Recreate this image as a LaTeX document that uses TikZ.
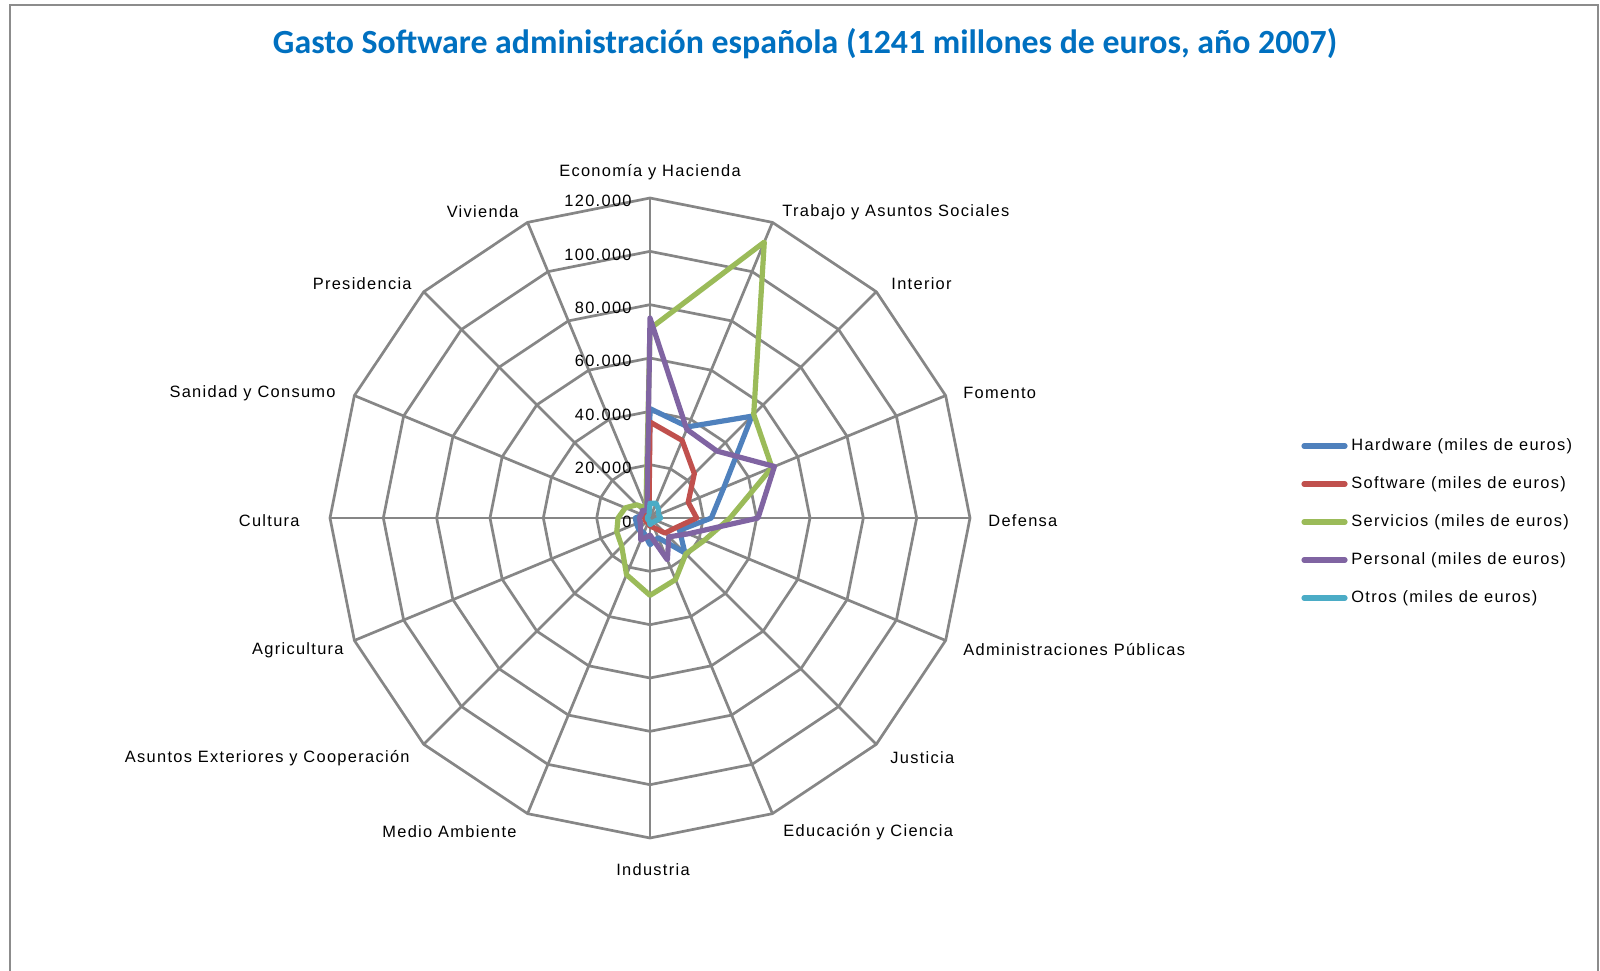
\documentclass[tikz,border=0pt]{standalone}
\usepackage{fontspec}
\usepackage{graphicx}
\setmainfont{Liberation Sans}
\newfontfamily\labfont[LetterSpace=8]{Liberation Sans}
\newfontfamily\ttlfont{Carlito}
\definecolor{gridgray}{RGB}{134,134,134}
\definecolor{framegray}{RGB}{140,140,140}
\definecolor{ttlblue}{RGB}{0,112,192}
\definecolor{hwc}{RGB}{79,129,189}
\definecolor{swc}{RGB}{192,80,77}
\definecolor{svc}{RGB}{155,187,89}
\definecolor{pec}{RGB}{128,100,162}
\definecolor{otc}{RGB}{75,172,198}
\tikzset{
  gridline/.style={draw=gridgray,line width=1.35pt},
  serie/.style={line width=2.6pt,line join=round,line cap=round},
  lab/.style={font=\labfont\fontsize{8.2}{10}\selectfont,inner sep=0pt},
  tick/.style={font=\labfont\fontsize{8.2}{10}\selectfont,inner sep=0pt,anchor=east},
}
\newcommand\drawseries[3]{%
  \foreach \v [count=\i from 0] in {#3} {\coordinate (#1\i) at ({650+2.66667*\v*sin(22.5*\i)},{518-2.66667*\v*cos(22.5*\i)});}
  \draw[serie,#2] (#10) \foreach \i in {1,...,15} { -- (#1\i) } -- cycle;
}
\begin{document}
\begin{tikzpicture}[x=0.5pt,y=-0.5pt]
\useasboundingbox (0,0) rectangle (1600,970);
\fill[white] (0,0) rectangle (1600,970);
\draw[framegray,line width=1.4pt] (10,980) -- (10,5) -- (1598,5) -- (1598,980);
% title
\node[inner sep=0pt,text=ttlblue] (title) at (805,44) {\resizebox{532pt}{!}{\ttlfont\bfseries Gasto Software administración española (1241 millones de euros, año 2007)}};
% grid
\coordinate (c) at (650,518);
\foreach \k in {0,...,15} {\coordinate (s\k) at ({650+320*sin(22.5*\k)},{518-320*cos(22.5*\k)});}
\foreach \k in {0,...,15} {\draw[gridline] (c) -- (s\k);}
\foreach \r in {1,...,6} {
  \draw[gridline,line join=miter] ({650},{518-53.3333*\r}) \foreach \k in {1,...,15} { -- ({650+53.3333*\r*sin(22.5*\k)},{518-53.3333*\r*cos(22.5*\k)}) } -- cycle;
}
% tick labels
\node[tick] (t0) at (632,521.5) {0};
\node[tick] (t1) at (632,468) {20.000};
\node[tick] (t2) at (632,414.7) {40.000};
\node[tick] (t3) at (632,361.3) {60.000};
\node[tick] (t4) at (632,308) {80.000};
\node[tick] (t5) at (632,254.7) {100.000};
\node[tick] (t6) at (632,201.3) {120.000};
% series
\drawseries{hw}{hwc}{41,37,54,30,23,12,18.5,8,10,6,6,5.5,5.5,3,2,1.5}
\drawseries{sw}{swc}{36,31.5,23.5,15.5,17.5,10,8,4,3,2,2,2,2,2,1.5,1}
\drawseries{sv}{svc}{71,112,55,49.5,30,22,19,25,29,23,15,13.5,12,10,7,4}
\drawseries{pe}{pec}{75,36,35.5,50.5,40.5,15.5,10,17,6.4,9,5,4,4,3.5,4,3}
\drawseries{ot}{otc}{5.5,6,4.5,3.5,4,2.5,2,2,2.5,1,1,1,1,1,1,1}
% category labels
\node[lab] (l0) at (650,172) {Economía y Hacienda};
\node[lab,anchor=west] (l1) at (782,212) {Trabajo y Asuntos Sociales};
\node[lab,anchor=west] (l2) at (891,284) {Interior};
\node[lab,anchor=west] (l3) at (963,393) {Fomento};
\node[lab,anchor=west] (l4) at (988,521) {Defensa};
\node[lab,anchor=west] (l5) at (963,650) {Administraciones Públicas};
\node[lab,anchor=west] (l6) at (890,758) {Justicia};
\node[lab,anchor=west] (l7) at (783,832) {Educación y Ciencia};
\node[lab] (l8) at (653,870) {Industria};
\node[lab,anchor=east] (l9) at (517,832) {Medio Ambiente};
\node[lab,anchor=east] (l10) at (410,758) {Asuntos Exteriores y Cooperación};
\node[lab,anchor=east] (l11) at (344,650) {Agricultura};
\node[lab,anchor=east] (l12) at (300,521) {Cultura};
\node[lab,anchor=east] (l13) at (336,393) {Sanidad y Consumo};
\node[lab,anchor=east] (l14) at (412,284) {Presidencia};
\node[lab,anchor=east] (l15) at (519,212) {Vivienda};
% legend
\foreach \n/\y/\col/\txt in {a/446/hwc/Hardware (miles de euros),b/484/swc/Software (miles de euros),c/522/svc/Servicios (miles de euros),d/560/pec/Personal (miles de euros),e/598/otc/Otros (miles de euros)} {
  \coordinate (lg\n1) at (1304,\y);
  \coordinate (lg\n2) at (1345,\y);
  \draw[serie,\col] (lg\n1) -- (lg\n2);
  \node[lab,anchor=west] (lt\n) at (1351,\y) {\txt};
}
\end{tikzpicture}
\end{document}
